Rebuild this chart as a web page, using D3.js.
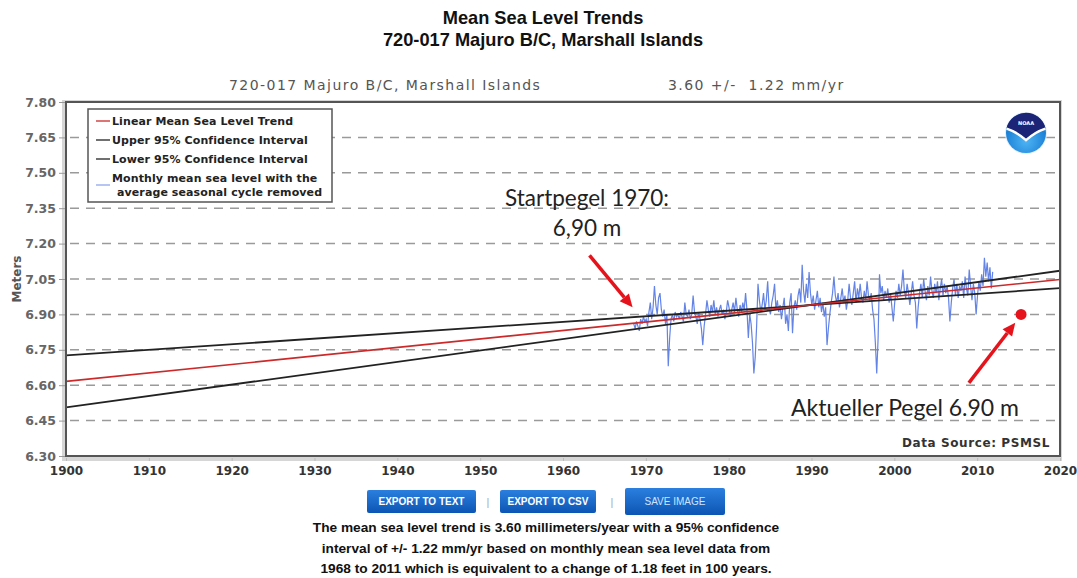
<!DOCTYPE html>
<html>
<head>
<meta charset="utf-8">
<script src="https://cdn.jsdelivr.net/npm/d3@7"></script>
<style>
  body { margin: 0; background: #fff; }
</style>
</head>
<body>
<svg id="chart" width="1077" height="578"></svg>
<script>
// ---- Data ----------------------------------------------------------
const titleLines = ["Mean Sea Level Trends", "720-017 Majuro B/C, Marshall Islands"];
const stationName = "720-017 Majuro B/C, Marshall Islands";
const trendLabel = "3.60 +/-  1.22 mm/yr";

const yTicks = [6.30, 6.45, 6.60, 6.75, 6.90, 7.05, 7.20, 7.35, 7.50, 7.65, 7.80];
const xTicks = [1900, 1910, 1920, 1930, 1940, 1950, 1960, 1970, 1980, 1990, 2000, 2010, 2020];

// Trend line and 95% confidence bounds (metres at 1900 and 2020)
const trendYears = [1900, 2020];
const trendLevels = [6.616, 7.048];
const upperLevels = [6.506, 7.085];
const lowerLevels = [6.726, 7.011];

// Monthly MSL, seasonal cycle removed — sampled every second month (Jan, Mar, May, Jul, Sep, Nov)
const mslYears = [1968, 1969, 1970, 1971, 1972, 1973, 1974, 1975, 1976, 1977, 1978, 1979,
                  1980, 1981, 1982, 1983, 1984, 1985, 1986, 1987, 1988, 1989, 1990, 1991,
                  1992, 1993, 1994, 1995, 1996, 1997, 1998, 1999, 2000, 2001, 2002, 2003,
                  2004, 2005, 2006, 2007, 2008, 2009, 2010, 2011];
const mslValues = [
  [null, null, null, 6.86, 6.84, 6.87],
  [6.85, 6.83, 6.88, 6.86, 6.89, 6.87],
  [6.88, 6.85, 6.91, 6.95, 6.88, 6.93],
  [7.02, 6.94, 6.90, 6.97, 6.99, 6.92],
  [6.89, 6.92, 6.86, 6.90, 6.68, 6.80],
  [6.88, 6.90, 6.87, 6.91, 6.89, 6.90],
  [6.88, 6.91, 6.89, 6.87, 6.95, 6.90],
  [6.89, 6.92, 6.88, 6.90, 6.98, 6.91],
  [6.89, 6.86, 6.91, 6.88, 6.84, 6.77],
  [6.85, 6.90, 6.96, 6.92, 6.89, 6.94],
  [6.91, 6.96, 6.90, 6.93, 6.89, 6.92],
  [6.94, 6.90, 6.92, 6.88, 6.91, 6.96],
  [6.93, 6.89, 6.92, 6.95, 6.91, 6.97],
  [6.92, 6.89, 6.94, 6.91, 6.95, 6.92],
  [6.99, 6.92, 6.80, 6.90, 6.86, 6.78],
  [6.65, 6.72, 6.85, 7.03, 6.96, 6.91],
  [6.94, 6.99, 6.92, 6.96, 7.04, 6.93],
  [6.90, 6.95, 6.98, 7.03, 6.92, 6.96],
  [6.91, 6.94, 6.88, 6.93, 6.97, 6.86],
  [6.90, 6.83, 6.95, 6.99, 6.82, 6.93],
  [6.96, 6.92, 6.98, 7.01, 6.95, 7.11],
  [7.00, 6.95, 7.03, 6.97, 7.08, 6.99],
  [6.94, 6.98, 6.92, 6.96, 7.00, 6.93],
  [6.97, 6.91, 6.95, 6.89, 6.93, 6.77],
  [6.84, 6.90, 6.95, 6.99, 7.06, 6.98],
  [6.95, 6.99, 6.93, 6.97, 7.01, 6.95],
  [6.98, 6.92, 6.96, 7.03, 6.97, 6.94],
  [6.99, 7.04, 6.95, 7.01, 6.97, 7.03],
  [6.97, 6.95, 7.00, 6.96, 7.04, 6.98],
  [6.96, 6.99, 6.92, 6.88, 6.78, 6.65],
  [6.80, 7.07, 6.99, 7.02, 6.96, 7.00],
  [6.97, 7.01, 6.95, 6.99, 6.93, 6.87],
  [6.95, 7.00, 6.97, 7.03, 6.98, 7.02],
  [7.09, 7.00, 6.97, 7.03, 6.99, 6.94],
  [6.99, 7.04, 6.98, 6.95, 6.84, 6.93],
  [6.99, 7.03, 6.97, 7.05, 7.00, 6.96],
  [7.02, 6.98, 7.06, 7.00, 6.97, 7.03],
  [6.99, 7.04, 6.96, 7.01, 7.05, 6.98],
  [7.03, 6.99, 7.02, 6.97, 6.87, 6.95],
  [7.01, 7.05, 6.98, 7.03, 6.97, 7.02],
  [7.00, 7.04, 6.97, 7.06, 7.01, 6.98],
  [7.09, 7.02, 6.96, 7.03, 6.99, 6.90],
  [6.98, 7.04, 7.00, 7.07, 7.02, 7.14],
  [7.06, 7.12, 7.04, 7.10, 7.01, 7.08]
];

// Annotated levels
const startLevel = { year: 1968.4, level: 6.93, tailYear: 1963.2, tailLevel: 7.15 };
const currentLevel = { year: 2015.3, level: 6.90, tipYear: 2014.6, tipLevel: 6.865, tailYear: 2009.0, tailLevel: 6.61 };

const legendItems = [
  { label: ["Linear Mean Sea Level Trend"], color: "#cc2a2a" },
  { label: ["Upper 95% Confidence Interval"], color: "#222" },
  { label: ["Lower 95% Confidence Interval"], color: "#222" },
  { label: ["Monthly mean sea level with the", "average seasonal cycle removed"], color: "#8fa6ee" }
];

const summaryLines = [
  "The mean sea level trend is 3.60 millimeters/year with a 95% confidence",
  "interval of +/- 1.22 mm/yr based on monthly mean sea level data from",
  "1968 to 2011 which is equivalent to a change of 1.18 feet in 100 years."
];
const buttons = ["EXPORT TO TEXT", "EXPORT TO CSV", "SAVE IMAGE"];

// ---- Layout ----------------------------------------------------------
const svg = d3.select("#chart");
const plot = { left: 66, right: 1060, top: 102, bottom: 456 };

const x = d3.scaleLinear().domain([1900, 2020]).range([plot.left, plot.right]);
const y = d3.scaleLinear().domain([6.30, 7.80]).range([plot.bottom, plot.top]);

const defs = svg.append("defs");
defs.append("clipPath").attr("id", "plotClip")
  .append("rect")
  .attr("x", plot.left).attr("y", plot.top)
  .attr("width", plot.right - plot.left).attr("height", plot.bottom - plot.top);

const btnGrad = defs.append("linearGradient").attr("id", "btnGrad")
  .attr("x1", 0).attr("y1", 0).attr("x2", 0).attr("y2", 1);
btnGrad.append("stop").attr("offset", "0%").attr("stop-color", "#2b7fde");
btnGrad.append("stop").attr("offset", "100%").attr("stop-color", "#0c55b4");

const logoGrad = defs.append("radialGradient").attr("id", "logoGrad")
  .attr("cx", "50%").attr("cy", "70%").attr("r", "60%");
logoGrad.append("stop").attr("offset", "0%").attr("stop-color", "#4fb4f4");
logoGrad.append("stop").attr("offset", "100%").attr("stop-color", "#1279d2");

// ---- Titles (condensed bold) -------------------------------------------
svg.append("g").attr("transform", "translate(543,0) scale(0.96,1)")
  .selectAll("text").data(titleLines).join("text")
  .attr("x", 0).attr("y", (d, i) => 24 + i * 22)
  .attr("text-anchor", "middle")
  .style("font-family", "'Liberation Sans Narrow', 'Arial Narrow', 'Liberation Sans', sans-serif")
  .style("font-weight", "bold").style("font-size", "19px").style("fill", "#111")
  .text(d => d);

svg.append("text").attr("x", 229).attr("y", 90)
  .style("font-family", "'DejaVu Sans', sans-serif").style("font-size", "14px")
  .style("fill", "#555").style("letter-spacing", "1.45px")
  .text(stationName);
svg.append("text").attr("x", 668).attr("y", 90)
  .style("font-family", "'DejaVu Sans', sans-serif").style("font-size", "14px")
  .style("fill", "#555").style("letter-spacing", "1.45px").style("white-space", "pre")
  .text(trendLabel);

// ---- Plot frame shadow ---------------------------------------------
svg.append("rect")
  .attr("x", plot.left - 4).attr("y", plot.top - 2)
  .attr("width", plot.right - plot.left + 6).attr("height", plot.bottom - plot.top + 7)
  .attr("fill", "#d6d6d6");
svg.append("rect")
  .attr("x", plot.left).attr("y", plot.top)
  .attr("width", plot.right - plot.left).attr("height", plot.bottom - plot.top)
  .attr("fill", "#fff");

// ---- Gridlines --------------------------------------------------------
svg.append("g").selectAll("line").data(yTicks.slice(1, -1)).join("line")
  .attr("x1", plot.left).attr("x2", plot.right)
  .attr("y1", d => y(d)).attr("y2", d => y(d))
  .attr("stroke", "#9a9a9a").attr("stroke-width", 1.5)
  .attr("stroke-dasharray", "9,7").attr("stroke-dashoffset", -4);

// ---- Axes ---------------------------------------------------------------
const yAxis = d3.axisLeft(y).tickValues(yTicks).tickFormat(d3.format(".2f")).tickSize(6).tickPadding(3);
const yG = svg.append("g").attr("transform", `translate(${plot.left - 1},0)`).call(yAxis);
yG.select(".domain").remove();
yG.selectAll(".tick line").attr("stroke", "#999");
yG.selectAll(".tick text")
  .style("font-family", "'DejaVu Sans', sans-serif").style("font-weight", "bold")
  .style("font-size", "12.5px").style("fill", "#666");

const xAxis = d3.axisBottom(x).tickValues(xTicks).tickFormat(d3.format("d")).tickSize(3).tickPadding(5);
const xG = svg.append("g").attr("transform", `translate(0,${plot.bottom + 2})`).call(xAxis);
xG.select(".domain").remove();
xG.selectAll(".tick line").attr("stroke", "#bbb");
xG.selectAll(".tick text")
  .style("font-family", "'DejaVu Sans', sans-serif").style("font-weight", "bold")
  .style("font-size", "12px").style("fill", "#333");

svg.append("text")
  .attr("transform", `translate(21,${(plot.top + plot.bottom) / 2}) rotate(-90)`)
  .attr("text-anchor", "middle")
  .style("font-family", "'DejaVu Sans', sans-serif").style("font-weight", "bold")
  .style("font-size", "12px").style("fill", "#555")
  .text("Meters");

// ---- Data marks --------------------------------------------------------
const marks = svg.append("g").attr("clip-path", "url(#plotClip)");

const monthly = [];
mslYears.forEach((yr, r) => {
  mslValues[r].forEach((v, i) => {
    if (v !== null) monthly.push({ t: yr + (2 * i + 0.5) / 12, v });
  });
});

marks.append("path").datum(monthly)
  .attr("fill", "none").attr("stroke", "#6384e6").attr("stroke-width", 1.2)
  .attr("d", d3.line().x(d => x(d.t)).y(d => y(d.v)));

const lineOf = levels => d3.line().x((d, i) => x(trendYears[i])).y(d => y(d))(levels);
marks.append("path").attr("d", lineOf(lowerLevels))
  .attr("fill", "none").attr("stroke", "#222").attr("stroke-width", 1.8);
marks.append("path").attr("d", lineOf(upperLevels))
  .attr("fill", "none").attr("stroke", "#222").attr("stroke-width", 1.8);
marks.append("path").attr("d", lineOf(trendLevels))
  .attr("fill", "none").attr("stroke", "#cc2a2a").attr("stroke-width", 1.6);

// ---- Plot border --------------------------------------------------------
svg.append("rect")
  .attr("x", plot.left).attr("y", plot.top)
  .attr("width", plot.right - plot.left).attr("height", plot.bottom - plot.top)
  .attr("fill", "none").attr("stroke", "#555").attr("stroke-width", 2);

// ---- Legend ------------------------------------------------------------
const lg = svg.append("g");
lg.append("rect").attr("x", 88).attr("y", 109).attr("width", 244).attr("height", 93)
  .attr("fill", "#fff").attr("stroke", "#555").attr("stroke-width", 1.5);
let rowY = 121;
legendItems.forEach(item => {
  const sampleY = item.label.length > 1 ? rowY + 7 : rowY;
  lg.append("line").attr("x1", 96).attr("x2", 110).attr("y1", sampleY).attr("y2", sampleY)
    .attr("stroke", item.color).attr("stroke-width", 1.3);
  item.label.forEach((t, k) => {
    lg.append("text").attr("x", k === 0 ? 112 : 117).attr("y", rowY + 4 + k * 14)
      .style("font-family", "'DejaVu Sans', sans-serif").style("font-weight", "bold")
      .style("font-size", "11px").style("fill", "#222")
      .style("letter-spacing", "0.1px")
      .text(t);
  });
  rowY += 19;
});

// ---- NOAA emblem --------------------------------------------------------
const lx = 1026, ly = 133, lr = 20;
const logo = svg.append("g");
logo.append("circle").attr("cx", lx).attr("cy", ly).attr("r", lr + 1).attr("fill", "#e6eef8");
logo.append("circle").attr("cx", lx).attr("cy", ly).attr("r", lr).attr("fill", "url(#logoGrad)");
logo.append("path")
  .attr("d", `M${lx - lr * 0.97},${ly - lr * 0.25}
              A${lr},${lr} 0 0 1 ${lx + lr * 0.97},${ly - lr * 0.25}
              Q${lx + lr * 0.45},${ly - lr * 0.1} ${lx},${ly + lr * 0.3}
              Q${lx - lr * 0.45},${ly - lr * 0.1} ${lx - lr * 0.97},${ly - lr * 0.25}Z`)
  .attr("fill", "#1b2477");
logo.append("path")
  .attr("d", `M${lx - lr * 0.97},${ly - lr * 0.22}
              Q${lx - lr * 0.45},${ly - lr * 0.05} ${lx},${ly + lr * 0.36}
              Q${lx + lr * 0.45},${ly - lr * 0.05} ${lx + lr * 0.97},${ly - lr * 0.22}`)
  .attr("fill", "none").attr("stroke", "#fff").attr("stroke-width", 2.4);
logo.append("text").attr("x", lx).attr("y", ly - lr * 0.42).attr("text-anchor", "middle")
  .style("font-family", "'DejaVu Sans', sans-serif").style("font-weight", "bold")
  .style("font-size", "5px").style("fill", "#fff").text("NOAA");

// ---- Annotations ---------------------------------------------------------
const annoFont = "'Lato', 'Open Sans', 'Liberation Sans', sans-serif";
svg.append("text").attr("x", 587).attr("y", 206).attr("text-anchor", "middle")
  .style("font-family", annoFont).style("font-size", "22.5px").style("fill", "#222")
  .text("Startpegel 1970:");
svg.append("text").attr("x", 587).attr("y", 236).attr("text-anchor", "middle")
  .style("font-family", annoFont).style("font-size", "22.5px").style("fill", "#222")
  .text("6,90 m");
svg.append("text").attr("x", 1019).attr("y", 416).attr("text-anchor", "end")
  .style("font-family", annoFont).style("font-size", "23px").style("fill", "#222")
  .text("Aktueller Pegel 6.90 m");

function arrow(x0, y0, x1, y1) {
  const ang = Math.atan2(y1 - y0, x1 - x0);
  const head = 13, half = 6;
  const bx = x1 - head * Math.cos(ang), by = y1 - head * Math.sin(ang);
  svg.append("line").attr("x1", x0).attr("y1", y0).attr("x2", bx).attr("y2", by)
    .attr("stroke", "#e5141c").attr("stroke-width", 3.5);
  svg.append("path")
    .attr("d", `M${x1},${y1}
                L${bx + half * Math.sin(ang)},${by - half * Math.cos(ang)}
                L${bx - half * Math.sin(ang)},${by + half * Math.cos(ang)}Z`)
    .attr("fill", "#e5141c");
}
arrow(x(startLevel.tailYear), y(startLevel.tailLevel), x(startLevel.year), y(startLevel.level));
arrow(x(currentLevel.tailYear), y(currentLevel.tailLevel), x(currentLevel.tipYear), y(currentLevel.tipLevel));
svg.append("circle").attr("cx", x(currentLevel.year)).attr("cy", y(currentLevel.level)).attr("r", 5.5)
  .attr("fill", "#e5141c");

svg.append("text").attr("x", 1050).attr("y", 447).attr("text-anchor", "end")
  .style("font-family", "'DejaVu Sans', sans-serif").style("font-weight", "bold")
  .style("font-size", "12px").style("fill", "#333").style("letter-spacing", "0.6px")
  .text("Data Source: PSMSL");

// ---- Buttons -------------------------------------------------------------
const btnBoxes = [
  { x: 367, y: 490, w: 109, h: 23 },
  { x: 500, y: 490, w: 96, h: 23 },
  { x: 625, y: 488, w: 100, h: 27 }
];
buttons.forEach((label, i) => {
  const b = btnBoxes[i];
  svg.append("rect").attr("x", b.x).attr("y", b.y).attr("width", b.w).attr("height", b.h)
    .attr("rx", 2).attr("fill", "url(#btnGrad)");
  svg.append("text").attr("x", b.x + b.w / 2).attr("y", b.y + b.h / 2 + 3.5)
    .attr("text-anchor", "middle")
    .style("font-family", "'Liberation Sans Narrow', 'Liberation Sans', sans-serif")
    .style("font-weight", i === 2 ? "normal" : "bold")
    .style("font-size", "10px").style("fill", i === 2 ? "#cfe3ff" : "#fff")
    .text(label);
});
[488, 612].forEach(sx => {
  svg.append("text").attr("x", sx).attr("y", 506).attr("text-anchor", "middle")
    .style("font-family", "'Liberation Sans', sans-serif").style("font-size", "11px")
    .style("fill", "#aaa").text("|");
});

// ---- Summary text --------------------------------------------------------
svg.append("g").selectAll("text").data(summaryLines).join("text")
  .attr("x", 546).attr("y", (d, i) => 532 + i * 20.5)
  .attr("text-anchor", "middle")
  .style("font-family", "'Liberation Sans', Arial, sans-serif").style("font-weight", "bold")
  .style("font-size", "13.7px").style("fill", "#111")
  .text(d => d);
</script>
</body>
</html>
